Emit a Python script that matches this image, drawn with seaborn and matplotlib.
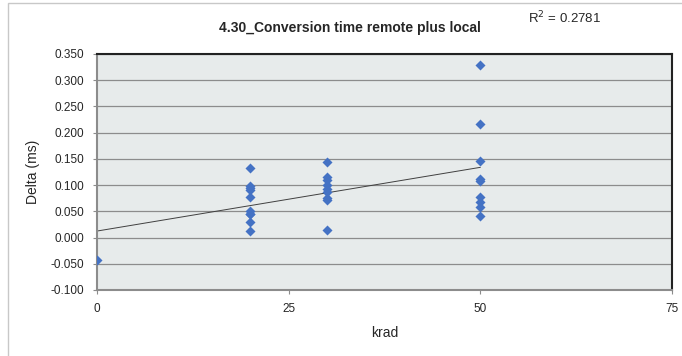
import numpy as np
import pandas as pd
import matplotlib
matplotlib.use("Agg")
import matplotlib.pyplot as plt
import seaborn as sns

# values
krad = [0,
        20, 20, 20, 20, 20, 20, 20, 20, 20, 20,
        30, 30, 30, 30, 30, 30, 30, 30, 30,
        50, 50, 50, 50, 50, 50, 50, 50, 50]
delta = [-0.043,
         0.132, 0.099, 0.094, 0.091, 0.077, 0.050, 0.045, 0.044, 0.029, 0.013,
         0.144, 0.116, 0.109, 0.100, 0.093, 0.086, 0.076, 0.071, 0.015,
         0.329, 0.217, 0.146, 0.112, 0.107, 0.077, 0.067, 0.058, 0.041]

yticks = np.arange(-0.100, 0.351, 0.050)
xticks = [0, 25, 50, 75]

df = pd.DataFrame({"krad": krad, "delta": delta})

sns.set_style("white")
plt.rcParams["font.family"] = ["Liberation Sans", "DejaVu Sans"]

fig = plt.figure(figsize=(6.82, 3.56), dpi=100)
ax = fig.add_axes([97 / 682, 1 - 290 / 356, (672 - 97) / 682, (290 - 54) / 356])

# chart area frame (only left and top edges fall inside the picture)
fig.patches.append(plt.Rectangle((8 / 682, -0.1), 1.0, 1.1 - 3 / 356,
                                 transform=fig.transFigure, fill=False,
                                 edgecolor="#c8c8c8", linewidth=1))

ax.set_facecolor("#e7ebeb")
for y in yticks:
    ax.axhline(y, color="#8c8c8c", linewidth=0.9, zorder=1)

sns.scatterplot(data=df, x="krad", y="delta", marker="D", s=26,
                color="#4472c4", edgecolor="#4472c4", linewidth=0, ax=ax, zorder=3)

# linear trendline over the data range
coef = np.polyfit(df["krad"], df["delta"], 1)
xs = np.array([df["krad"].min(), df["krad"].max()])
ax.plot(xs, np.polyval(coef, xs), color="#404040", linewidth=0.7, zorder=2)

ax.set_xlim(0, 75)
ax.set_ylim(-0.100, 0.350)
ax.set_xticks(xticks)
ax.set_yticks(yticks)
ax.set_yticklabels([f"{v:.3f}" for v in yticks])
ax.tick_params(axis="both", labelsize=8.5, length=3, color="#8c8c8c",
               direction="out", bottom=True, left=True, pad=6)

for side in ["left", "bottom"]:
    ax.spines[side].set_color("#8c8c8c")
    ax.spines[side].set_linewidth(1.5)
for side in ["top", "right"]:
    ax.spines[side].set_color("#222222")
    ax.spines[side].set_linewidth(1.5)

ax.set_xlabel("krad", fontsize=10, labelpad=8)
ax.set_ylabel("Delta (ms)", fontsize=10, labelpad=8)

fig.text(350 / 682, 1 - 28 / 356, "4.30_Conversion time remote plus local",
         ha="center", va="center", fontsize=10, fontweight="bold")
fig.text(528 / 682, 1 - 18 / 356, "R$^2$ = 0.2781", ha="left", va="center",
         fontsize=9.5)

fig.savefig("out.png", dpi=100)
